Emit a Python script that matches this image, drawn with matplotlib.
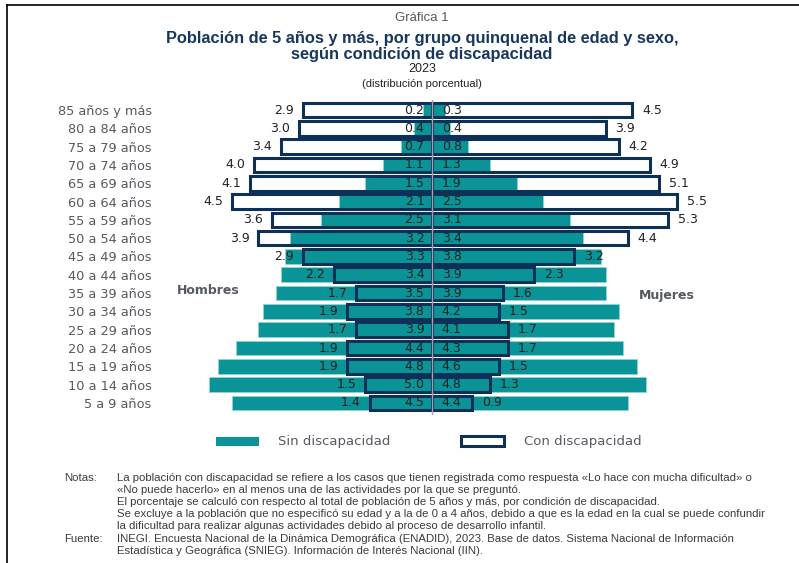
import matplotlib
matplotlib.use('Agg')
import matplotlib.pyplot as plt
from matplotlib.patches import Rectangle
from matplotlib.lines import Line2D
import numpy as np

grupos = ['85 años y más', '80 a 84 años', '75 a 79 años', '70 a 74 años',
          '65 a 69 años', '60 a 64 años', '55 a 59 años', '50 a 54 años',
          '45 a 49 años', '40 a 44 años', '35 a 39 años', '30 a 34 años',
          '25 a 29 años', '20 a 24 años', '15 a 19 años', '10 a 14 años',
          '5 a 9 años']
sin_hombres = [0.2, 0.4, 0.7, 1.1, 1.5, 2.1, 2.5, 3.2, 3.3, 3.4, 3.5, 3.8, 3.9, 4.4, 4.8, 5.0, 4.5]
sin_mujeres = [0.3, 0.4, 0.8, 1.3, 1.9, 2.5, 3.1, 3.4, 3.8, 3.9, 3.9, 4.2, 4.1, 4.3, 4.6, 4.8, 4.4]
con_hombres = [2.9, 3.0, 3.4, 4.0, 4.1, 4.5, 3.6, 3.9, 2.9, 2.2, 1.7, 1.9, 1.7, 1.9, 1.9, 1.5, 1.4]
con_mujeres = [4.5, 3.9, 4.2, 4.9, 5.1, 5.5, 5.3, 4.4, 3.2, 2.3, 1.6, 1.5, 1.7, 1.7, 1.5, 1.3, 0.9]

TEAL = '#0a9497'
NAVY = '#0c3058'
GRIS = '#555a60'

W, H = 799, 563
fig = plt.figure(figsize=(W / 100, H / 100), dpi=100)


def fx(px):
    return px / W


def fy(py):
    return 1 - py / H


# bar area: center at x=432 px, 44.5 px per percent point, rows every 18.3 px
ax = fig.add_axes([fx(160), fy(415), fx(720) - fx(160), fy(100) - fy(415)])
ax.set_xlim(-272 / 44.5, 288 / 44.5)
ax.set_ylim((415 - 110) / 18.31, (100 - 110) / 18.31)

y = np.arange(len(grupos))
sh = -np.array(sin_hombres)
sm = np.array(sin_mujeres)
ch = -np.array(con_hombres)
cm = np.array(con_mujeres)

bh = 0.8
# white fill of "con discapacidad" underneath
ax.barh(y, ch, height=bh, color='white', edgecolor='none', zorder=1)
ax.barh(y, cm, height=bh, color='white', edgecolor='none', zorder=1)
# teal "sin discapacidad"
ax.barh(y, sh, height=bh, color=TEAL, edgecolor='#8fd3d3', linewidth=0.6, zorder=2)
ax.barh(y, sm, height=bh, color=TEAL, edgecolor='#8fd3d3', linewidth=0.6, zorder=2)
# navy outline of "con discapacidad" on top
ax.barh(y, ch, height=bh, color='none', edgecolor=NAVY, linewidth=2.2, zorder=3)
ax.barh(y, cm, height=bh, color='none', edgecolor=NAVY, linewidth=2.2, zorder=3)

ax.axvline(0, color='#9aa6b2', lw=1.0, zorder=4)

lab = dict(fontsize=9, color='#222222', va='center', zorder=5)
for i in range(len(grupos)):
    ax.text(-0.17, y[i], f'{sin_hombres[i]:.1f}', ha='right', **lab)
    ax.text(0.22, y[i], f'{sin_mujeres[i]:.1f}', ha='left', **lab)
    ax.text(ch[i] - 0.2, y[i], f'{con_hombres[i]:.1f}', ha='right', **lab)
    ax.text(cm[i] + 0.22, y[i], f'{con_mujeres[i]:.1f}', ha='left', **lab)

ax.set_yticks(y)
ax.set_yticklabels(grupos, fontsize=9.3, color=GRIS)
ax.tick_params(axis='y', length=0, pad=6)
ax.set_xticks([])
for s in ax.spines.values():
    s.set_visible(False)
ax.patch.set_alpha(0)

# sex labels
fig.text(fx(177), fy(290), 'Hombres', fontsize=9, fontweight='bold', color=GRIS, va='center')
fig.text(fx(639), fy(295), 'Mujeres', fontsize=9, fontweight='bold', color=GRIS, va='center')

# titles
tf = ['Liberation Sans', 'DejaVu Sans']
cx = fx(422)
fig.text(cx, fy(18), 'Gráfica 1', fontsize=9.5, color=GRIS, ha='center', va='center', family=tf)
fig.text(cx, fy(38), 'Población de 5 años y más, por grupo quinquenal de edad y sexo,',
         fontsize=11.8, fontweight='bold', color='#17375e', ha='center', va='center', family=tf)
fig.text(cx, fy(54), 'según condición de discapacidad',
         fontsize=11.8, fontweight='bold', color='#17375e', ha='center', va='center', family=tf)
fig.text(cx, fy(69), '2023', fontsize=9, color='#222222', ha='center', va='center', family=tf)
fig.text(cx, fy(84), '(distribución porcentual)', fontsize=8, color='#222222',
         ha='center', va='center', family=tf)

# legend
fig.patches.append(Rectangle((fx(216), fy(446)), fx(259) - fx(216), fy(437) - fy(446),
                             transform=fig.transFigure, facecolor=TEAL, edgecolor='none'))
fig.text(fx(278), fy(441), 'Sin discapacidad', fontsize=9.5, color=GRIS, va='center')
fig.patches.append(Rectangle((fx(461), fy(446)), fx(504) - fx(461), fy(436) - fy(446),
                             transform=fig.transFigure, facecolor='white', edgecolor=NAVY,
                             linewidth=2.2))
fig.text(fx(524), fy(441), 'Con discapacidad', fontsize=9.5, color=GRIS, va='center')

# notes
nf = ['Liberation Sans', 'DejaVu Sans']
nt = dict(fontsize=8.2, color='#3a3a3a', va='center', family=nf)
fig.text(fx(64), fy(478), 'Notas:', **nt)
notas = [
    'La población con discapacidad se refiere a los casos que tienen registrada como respuesta «Lo hace con mucha dificultad» o',
    '«No puede hacerlo» en al menos una de las actividades por la que se preguntó.',
    'El porcentaje se calculó con respecto al total de población de 5 años y más, por condición de discapacidad.',
    'Se excluye a la población que no especificó su edad y a la de 0 a 4 años, debido a que es la edad en la cual se puede confundir',
    'la dificultad para realizar algunas actividades debido al proceso de desarrollo infantil.',
]
for k, t in enumerate(notas):
    fig.text(fx(117), fy(478 + 12 * k), t, **nt)
fig.text(fx(64), fy(539), 'Fuente:', **nt)
fig.text(fx(117), fy(539), 'INEGI. Encuesta Nacional de la Dinámica Demográfica (ENADID), 2023. Base de datos. Sistema Nacional de Información', **nt)
fig.text(fx(117), fy(551), 'Estadística y Geográfica (SNIEG). Información de Interés Nacional (IIN).', **nt)

# page frame
fig.add_artist(Line2D([fx(7), fx(7)], [fy(5), 0], transform=fig.transFigure, color='black', lw=1.2))
fig.add_artist(Line2D([fx(7), 1], [fy(5), fy(5)], transform=fig.transFigure, color='black', lw=1.2))

fig.savefig('out.png', dpi=100)
